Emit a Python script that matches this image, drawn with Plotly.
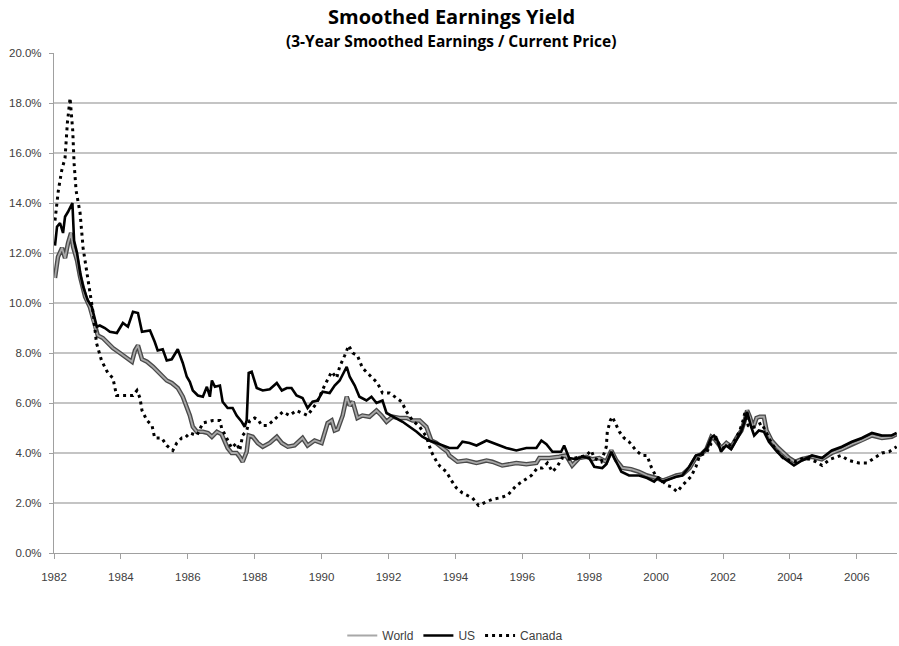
import plotly.graph_objects as go

# ---------------- data (decimal years, yield in %) ----------------
world_years = [1982.03, 1982.12, 1982.24, 1982.33, 1982.42, 1982.51, 1982.57, 1982.69, 1982.78, 1982.93,
               1983.07, 1983.22, 1983.31, 1983.46, 1983.61, 1983.76, 1983.97, 1984.18, 1984.33, 1984.42,
               1984.51, 1984.63, 1984.78, 1984.96, 1985.16, 1985.37, 1985.52, 1985.70, 1985.85, 1985.97,
               1986.06, 1986.15, 1986.27, 1986.45, 1986.60, 1986.72, 1986.87, 1987.01, 1987.10, 1987.19,
               1987.31, 1987.46, 1987.55, 1987.64, 1987.76, 1987.82, 1987.94, 1988.09, 1988.24, 1988.45,
               1988.66, 1988.81, 1988.99, 1989.19, 1989.43, 1989.58, 1989.79, 1990.00, 1990.18, 1990.30,
               1990.39, 1990.48, 1990.63, 1990.75, 1990.84, 1990.93, 1991.07, 1991.22, 1991.43, 1991.64,
               1991.79, 1991.94, 1992.12, 1992.33, 1992.54, 1992.72, 1992.93, 1993.13, 1993.28, 1993.43,
               1993.61, 1993.76, 1993.82, 1994.06, 1994.33, 1994.63, 1994.93, 1995.10, 1995.40, 1995.82,
               1996.12, 1996.42, 1996.51, 1996.81, 1997.10, 1997.31, 1997.49, 1997.70, 1997.91, 1998.09,
               1998.30, 1998.51, 1998.66, 1998.81, 1998.99, 1999.25, 1999.49, 1999.73, 2000.00, 2000.20,
               2000.40, 2000.60, 2000.80, 2001.00, 2001.20, 2001.35, 2001.50, 2001.65, 2001.75, 2001.85,
               2001.95, 2002.10, 2002.25, 2002.40, 2002.55, 2002.65, 2002.72, 2002.80, 2002.90, 2003.00,
               2003.10, 2003.22, 2003.30, 2003.45, 2003.65, 2003.97, 2004.15, 2004.35, 2004.65, 2004.95,
               2005.25, 2005.55, 2005.85, 2006.15, 2006.45, 2006.75, 2007.04, 2007.19]
world_vals = [11.0, 11.85, 12.2, 11.8, 12.4, 12.8, 12.25, 11.7, 11.05, 10.25,
              9.85, 9.05, 8.7, 8.6, 8.4, 8.2, 8.0, 7.8, 7.65, 8.1,
              8.3, 7.75, 7.65, 7.45, 7.2, 6.9, 6.8, 6.6, 6.25, 5.85,
              5.5, 5.05, 4.85, 4.85, 4.8, 4.65, 4.85, 4.75, 4.45, 4.2,
              4.0, 4.0, 3.85, 3.65, 4.05, 4.7, 4.65, 4.4, 4.25, 4.4,
              4.65, 4.4, 4.25, 4.3, 4.6, 4.3, 4.5, 4.4, 5.2, 5.3,
              4.9, 4.95, 5.5, 6.25, 5.9, 6.05, 5.4, 5.5, 5.45, 5.7,
              5.5, 5.25, 5.45, 5.4, 5.4, 5.3, 5.3, 5.05, 4.5, 4.4,
              4.2, 4.05, 3.9, 3.65, 3.7, 3.6, 3.7, 3.65, 3.5, 3.6,
              3.55, 3.6, 3.8, 3.8, 3.85, 3.9, 3.5, 3.8, 3.85, 3.75,
              3.8, 3.65, 4.1, 3.7, 3.4, 3.35, 3.25, 3.1, 3.0, 2.9,
              3.0, 3.1, 3.15, 3.4, 3.85, 3.95, 4.15, 4.65, 4.55, 4.4,
              4.2, 4.4, 4.25, 4.6, 4.9, 5.3, 5.7, 5.45, 5.0, 5.4,
              5.45, 5.45, 4.9, 4.5, 4.2, 3.8, 3.65, 3.75, 3.85, 3.75,
              4.0, 4.15, 4.35, 4.5, 4.7, 4.6, 4.65, 4.75]

us_years = [1982.03, 1982.09, 1982.18, 1982.27, 1982.33, 1982.42, 1982.55, 1982.60, 1982.69, 1982.78,
            1982.87, 1983.01, 1983.13, 1983.28, 1983.37, 1983.52, 1983.67, 1983.88, 1984.06, 1984.21,
            1984.36, 1984.51, 1984.63, 1984.87, 1985.01, 1985.10, 1985.25, 1985.37, 1985.52, 1985.70,
            1985.85, 1985.97, 1986.06, 1986.15, 1986.30, 1986.45, 1986.57, 1986.66, 1986.72, 1986.81,
            1986.96, 1987.04, 1987.19, 1987.34, 1987.46, 1987.61, 1987.70, 1987.76, 1987.82, 1987.91,
            1988.06, 1988.24, 1988.45, 1988.66, 1988.81, 1988.96, 1989.10, 1989.25, 1989.43, 1989.58,
            1989.73, 1989.88, 1990.03, 1990.24, 1990.39, 1990.54, 1990.75, 1990.84, 1990.99, 1991.13,
            1991.34, 1991.49, 1991.64, 1991.82, 1991.94, 1992.09, 1992.24, 1992.42, 1992.63, 1992.84,
            1993.01, 1993.22, 1993.43, 1993.61, 1993.82, 1994.06, 1994.21, 1994.42, 1994.63, 1994.93,
            1995.22, 1995.52, 1995.82, 1996.12, 1996.42, 1996.57, 1996.72, 1996.90, 1997.16, 1997.25,
            1997.40, 1997.61, 1997.79, 1998.00, 1998.15, 1998.39, 1998.51, 1998.66, 1998.75, 1998.96,
            1999.19, 1999.49, 1999.73, 1999.94, 2000.05, 2000.18, 2000.39, 2000.60, 2000.78, 2000.99,
            2001.19, 2001.34, 2001.52, 2001.64, 2001.73, 2001.82, 2001.94, 2002.09, 2002.24, 2002.39,
            2002.54, 2002.63, 2002.72, 2002.84, 2002.93, 2003.07, 2003.22, 2003.37, 2003.58, 2003.76,
            2003.97, 2004.12, 2004.36, 2004.66, 2004.96, 2005.25, 2005.55, 2005.85, 2006.15, 2006.45,
            2006.75, 2007.04, 2007.19]
us_vals = [12.3, 13.05, 13.2, 12.8, 13.45, 13.65, 14.0, 12.5, 12.0, 11.2,
           10.65, 10.1, 9.85, 9.05, 9.1, 9.0, 8.85, 8.8, 9.2, 9.05,
           9.65, 9.6, 8.85, 8.9, 8.45, 8.1, 8.15, 7.7, 7.75, 8.15,
           7.6, 7.05, 6.85, 6.5, 6.3, 6.25, 6.65, 6.25, 6.9, 6.65,
           6.7, 6.05, 5.8, 5.8, 5.5, 5.25, 5.05, 5.3, 7.2, 7.25,
           6.6, 6.5, 6.55, 6.8, 6.5, 6.6, 6.6, 6.3, 6.2, 5.8,
           6.05, 6.1, 6.45, 6.4, 6.7, 6.9, 7.45, 7.05, 6.7, 6.25,
           6.1, 6.25, 6.0, 6.1, 5.6, 5.5, 5.4, 5.25, 5.05, 4.85,
           4.65, 4.5, 4.4, 4.3, 4.2, 4.2, 4.45, 4.4, 4.3, 4.5,
           4.35, 4.2, 4.1, 4.2, 4.2, 4.5, 4.35, 4.05, 4.05, 4.3,
           3.8, 3.75, 3.85, 3.8, 3.45, 3.4, 3.55, 4.05, 3.8, 3.25,
           3.1, 3.1, 3.0, 2.85, 3.0, 2.85, 2.95, 3.05, 3.1, 3.45,
           3.9, 3.95, 4.2, 4.6, 4.7, 4.55, 4.05, 4.3, 4.15, 4.5,
           4.85, 5.2, 5.65, 5.05, 4.7, 4.9, 4.85, 4.45, 4.1, 3.85,
           3.65, 3.5, 3.7, 3.9, 3.8, 4.1, 4.25, 4.45, 4.6, 4.8,
           4.7, 4.7, 4.8]

canada_years = [1982.03, 1982.13, 1982.23, 1982.33, 1982.40, 1982.48, 1982.56, 1982.60, 1982.66, 1982.78,
                1982.87, 1982.98, 1983.07, 1983.17, 1983.27, 1983.42, 1983.61, 1983.76, 1983.87, 1984.03,
                1984.36, 1984.48, 1984.57, 1984.63, 1984.78, 1984.93, 1985.01, 1985.22, 1985.37, 1985.55,
                1985.67, 1985.82, 1985.91, 1986.06, 1986.27, 1986.45, 1986.75, 1986.96, 1987.01, 1987.16,
                1987.31, 1987.46, 1987.55, 1987.64, 1987.76, 1987.85, 1988.00, 1988.09, 1988.21, 1988.39,
                1988.66, 1988.84, 1989.04, 1989.25, 1989.58, 1989.85, 1990.09, 1990.30, 1990.45, 1990.54,
                1990.69, 1990.81, 1990.93, 1991.07, 1991.22, 1991.43, 1991.67, 1991.82, 1992.03, 1992.24,
                1992.39, 1992.54, 1992.72, 1992.93, 1993.13, 1993.28, 1993.46, 1993.55, 1993.73, 1993.88,
                1994.03, 1994.21, 1994.51, 1994.69, 1994.93, 1995.10, 1995.31, 1995.55, 1995.82, 1996.06,
                1996.27, 1996.45, 1996.60, 1996.75, 1996.90, 1997.04, 1997.19, 1997.40, 1997.70, 1997.91,
                1998.06, 1998.15, 1998.36, 1998.51, 1998.54, 1998.63, 1998.69, 1998.78, 1998.90, 1999.04,
                1999.19, 1999.40, 1999.58, 1999.73, 1999.85, 2000.00, 2000.09, 2000.33, 2000.45, 2000.63,
                2000.78, 2001.04, 2001.19, 2001.30, 2001.50, 2001.65, 2001.80, 2001.90, 2002.00, 2002.20,
                2002.35, 2002.50, 2002.60, 2002.65, 2002.75, 2002.85, 2003.00, 2003.15, 2003.30, 2003.45,
                2003.60, 2003.80, 2004.00, 2004.20, 2004.40, 2004.60, 2004.78, 2004.96, 2005.20, 2005.52,
                2005.76, 2006.06, 2006.30, 2006.57, 2006.75, 2006.96, 2007.19]
canada_vals = [13.3, 14.5, 15.3, 15.8, 17.2, 18.2, 16.9, 15.6, 14.5, 13.6,
               12.2, 11.2, 10.4, 9.6, 8.4, 7.7, 7.2, 7.0, 6.3, 6.3,
               6.3, 6.5, 6.2, 5.7, 5.3, 5.1, 4.6, 4.6, 4.3, 4.1,
               4.4, 4.6, 4.6, 4.8, 4.7, 5.2, 5.3, 5.3, 5.0, 4.6,
               4.2, 4.4, 4.1, 4.7, 4.9, 5.3, 5.4, 5.35, 5.1, 5.1,
               5.45, 5.65, 5.5, 5.7, 5.5, 6.0, 6.7, 7.25, 7.0, 7.45,
               7.9, 8.3, 8.0, 7.9, 7.4, 7.1, 6.8, 6.4, 6.4, 6.2,
               6.05, 5.65, 5.3, 5.05, 4.65, 4.05, 3.6, 3.45, 3.25, 2.9,
               2.6, 2.4, 2.2, 1.9, 2.05, 2.15, 2.2, 2.3, 2.7, 2.9,
               3.1, 3.4, 3.4, 3.6, 3.25, 3.45, 3.8, 3.75, 3.85, 3.9,
               4.1, 3.8, 3.65, 4.25, 4.85, 5.3, 5.45, 5.2, 4.85, 4.6,
               4.45, 4.1, 3.9, 3.9, 3.45, 3.05, 3.0, 2.7, 2.65, 2.45,
               2.7, 3.05, 3.45, 3.9, 4.0, 4.4, 4.6, 4.3, 4.2, 4.3,
               4.5, 4.9, 5.3, 5.6, 5.1, 5.0, 5.1, 5.2, 4.8, 4.4,
               4.1, 3.8, 3.7, 3.65, 3.8, 3.75, 3.65, 3.5, 3.75, 3.9,
               3.7, 3.6, 3.6, 3.85, 4.0, 4.05, 4.25]

year_ticks = list(range(1982, 2007, 2))
year_labels = [str(y) for y in year_ticks]
pct_ticks = list(range(0, 21, 2))

# ---------------- figure ----------------
fig = go.Figure()

# World: grey line with a dark outline (double-line look)
fig.add_trace(go.Scatter(x=world_years, y=world_vals, mode="lines",
                         line=dict(color="#4a4a4a", width=4.5),
                         showlegend=False, hoverinfo="skip"))
fig.add_trace(go.Scatter(x=world_years, y=world_vals, mode="lines", name="World",
                         line=dict(color="#a8a8a8", width=1.8)))
fig.add_trace(go.Scatter(x=us_years, y=us_vals, mode="lines", name="US",
                         line=dict(color="#000000", width=2.6)))
fig.add_trace(go.Scatter(x=canada_years, y=canada_vals, mode="lines", name="Canada",
                         line=dict(color="#000000", width=3, dash="3px,4px")))

tick_font = dict(family="Liberation Sans, Arial", size=11.5, color="#404040")

fig.update_layout(
    width=899, height=646,
    paper_bgcolor="white", plot_bgcolor="white",
    margin=dict(l=54, r=2, t=53, b=93, autoexpand=False),
    font=tick_font,
    xaxis=dict(range=[1982, 2007.2], tickmode="array", tickvals=year_ticks, ticktext=year_labels,
               showgrid=False, zeroline=False, showline=True, linecolor="#a0a0a0", linewidth=1.2,
               ticks="outside", ticklen=5, tickcolor="#a0a0a0", tickfont=tick_font,
               ticklabelstandoff=8, automargin=False),
    yaxis=dict(range=[0, 20], tickmode="array", tickvals=pct_ticks,
               ticktext=[f"{v:.1f}%" for v in pct_ticks],
               showgrid=True, gridcolor="#c4c4c4", gridwidth=1.6, zeroline=False,
               showline=True, linecolor="#a0a0a0", linewidth=1.2,
               ticks="outside", ticklen=4, tickcolor="#a0a0a0", tickfont=tick_font,
               ticklabelstandoff=5, automargin=False),
    legend=dict(orientation="h", x=0.476, xanchor="center", y=-0.165, yanchor="middle",
                font=dict(family="Liberation Sans, Arial", size=12, color="#404040"),
                itemwidth=30, bgcolor="rgba(0,0,0,0)"),
    showlegend=True,
)

title_font = "Liberation Sans Narrow, Open Sans, Arial"
fig.add_annotation(text="<b>Smoothed Earnings Yield</b>", xref="paper", yref="paper",
                   x=0.471, y=1.072, xanchor="center", yanchor="middle", showarrow=False,
                   font=dict(family=title_font, size=20, color="#000000"))
fig.add_annotation(text="<b>(3-Year Smoothed Earnings / Current Price)</b>", xref="paper", yref="paper",
                   x=0.471, y=1.024, xanchor="center", yanchor="middle", showarrow=False,
                   font=dict(family=title_font, size=15.5, color="#000000"))

fig.write_html("out.html", config={"displayModeBar": False},
               post_script="document.body.style.margin='0';document.body.style.overflow='hidden';")
